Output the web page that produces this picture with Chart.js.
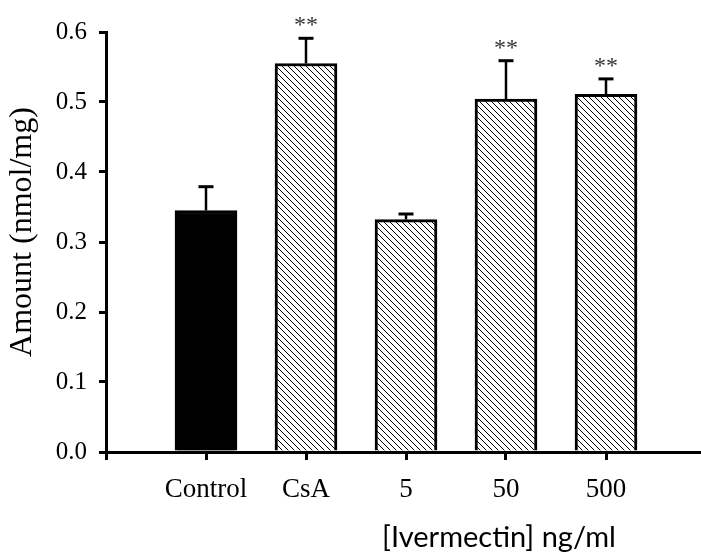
<!DOCTYPE html>
<html>
<head>
<meta charset="utf-8">
<script src="https://cdn.jsdelivr.net/npm/chart.js@4.4.1/dist/chart.umd.min.js"></script>
<style>
  html, body { margin: 0; padding: 0; background: #fff; overflow: hidden; }
</style>
</head>
<body>
<canvas id="chart_amount" width="701" height="557"></canvas>
<script>
// groups along the x axis (position 0 is the empty origin tick)
var groupLabels = ['', 'Control', 'CsA', '5', '50', '500'];
var groupPositions = [1, 2, 3, 4, 5];
var amountValues = [0.345, 0.555, 0.332, 0.504, 0.511];
var amountErrors = [0.034, 0.036, 0.008, 0.055, 0.022];
var significance = ['', '**', '', '**', '**'];
var yTicks = [0.0, 0.1, 0.2, 0.3, 0.4, 0.5, 0.6];

function makeHatch() {
    var c = document.createElement('canvas');
    c.width = 6; c.height = 6;
    var g = c.getContext('2d');
    g.fillStyle = '#fff';
    g.fillRect(0, 0, 6, 6);
    g.strokeStyle = '#000';
    g.lineWidth = 1;
    g.beginPath();
    g.moveTo(0, 0); g.lineTo(6, 6);
    g.moveTo(-1, 5); g.lineTo(1, 7);
    g.moveTo(5, -1); g.lineTo(7, 1);
    g.stroke();
    return g.createPattern(c, 'repeat');
}
var hatch = makeHatch();

var serif = '"Liberation Serif", "Times New Roman", serif';

var chart_amount = new Chart(document.getElementById('chart_amount'), {
    type: 'bar',
    data: {
        datasets: [{
            data: groupPositions.map(function (x, i) { return { x: x, y: amountValues[i] }; }),
            backgroundColor: amountValues.map(function (v, i) { return i === 0 ? '#000' : hatch; }),
            borderColor: '#000',
            borderWidth: 3,
            borderSkipped: 'start',
            barThickness: 62
        }]
    },
    options: {
        animation: false,
        responsive: false,
        layout: { padding: { top: 32, right: 0, bottom: 0, left: 0 } },
        plugins: {
            legend: { display: false },
            tooltip: { enabled: false }
        },
        scales: {
            x: {
                type: 'linear',
                offset: false,
                min: 0,
                max: 5.95,
                afterBuildTicks: function (scale) {
                    scale.ticks = groupLabels.map(function (_, i) { return { value: i }; });
                },
                afterFit: function (scale) { scale.height = 105; },
                grid: {
                    drawOnChartArea: false,
                    offset: false,
                    tickLength: 8,
                    lineWidth: 3,
                    color: '#000'
                },
                border: { color: '#000', width: 3 },
                ticks: {
                    padding: 14,
                    color: '#000',
                    font: { family: serif, size: 27 },
                    maxRotation: 0,
                    autoSkip: false,
                    callback: function (value) { return groupLabels[value] || ''; }
                }
            },
            y: {
                min: 0,
                max: 0.6,
                afterBuildTicks: function (scale) {
                    scale.ticks = yTicks.map(function (v) { return { value: v }; });
                },
                afterFit: function (scale) { scale.width = 106; },
                grid: {
                    drawOnChartArea: false,
                    tickLength: 7,
                    lineWidth: 3,
                    color: '#000'
                },
                border: { color: '#000', width: 3 },
                ticks: {
                    padding: 12,
                    color: '#000',
                    font: { family: serif, size: 25 },
                    callback: function (value) { return value.toFixed(1); }
                }
            }
        }
    },
    plugins: [{
        id: 'extras',
        beforeDraw: function (chart) {
            var ctx = chart.ctx;
            ctx.save();
            ctx.fillStyle = '#fff';
            ctx.fillRect(0, 0, chart.width, chart.height);
            ctx.restore();
        },
        afterDatasetsDraw: function (chart) {
            var ctx = chart.ctx;
            var xs = chart.scales.x, ys = chart.scales.y;
            ctx.save();
            ctx.strokeStyle = '#000';
            groupPositions.forEach(function (pos, i) {
                var cx = xs.getPixelForValue(pos);
                var y0 = ys.getPixelForValue(amountValues[i]);
                var y1 = ys.getPixelForValue(amountValues[i] + amountErrors[i]);
                ctx.lineWidth = 2.5;
                ctx.beginPath();
                ctx.moveTo(cx, y0);
                ctx.lineTo(cx, y1);
                ctx.stroke();
                ctx.lineWidth = 3;
                ctx.beginPath();
                ctx.moveTo(cx - 7.5, y1);
                ctx.lineTo(cx + 7.5, y1);
                ctx.stroke();
                if (significance[i]) {
                    ctx.fillStyle = '#333';
                    ctx.font = '24px ' + serif;
                    ctx.textAlign = 'center';
                    ctx.textBaseline = 'alphabetic';
                    ctx.fillText(significance[i], cx, y1 - 6);
                }
            });
            ctx.restore();
        },
        afterDraw: function (chart) {
            var ctx = chart.ctx;
            var area = chart.chartArea;
            ctx.save();
            ctx.fillStyle = '#000';
            ctx.textAlign = 'center';
            ctx.textBaseline = 'middle';
            // y axis title
            ctx.translate(23, (area.top + area.bottom) / 2 - 10);
            ctx.rotate(-Math.PI / 2);
            ctx.font = '32px ' + serif;
            ctx.fillText('Amount (nmol/mg)', 0, 0);
            ctx.restore();
            // x axis title
            ctx.save();
            ctx.fillStyle = '#000';
            ctx.textAlign = 'center';
            ctx.textBaseline = 'middle';
            ctx.font = '29px Lato, "Open Sans", sans-serif';
            ctx.fillText('[Ivermectin] ng/ml', chart.scales.x.getPixelForValue(3.93), 538);
            ctx.restore();
        }
    }]
});
</script>
</body>
</html>
